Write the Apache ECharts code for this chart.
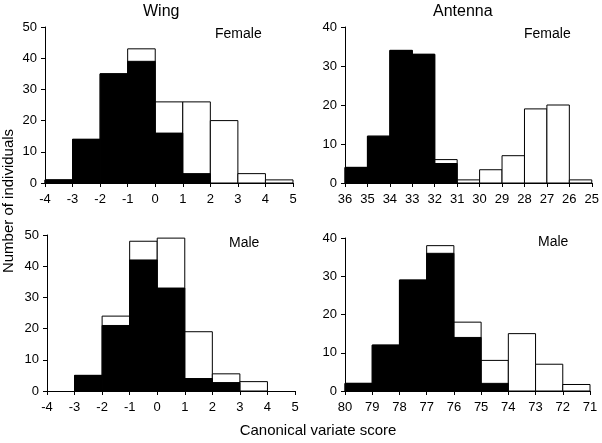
<!DOCTYPE html>
<html>
<head>
<meta charset="utf-8">
<script src="https://cdn.jsdelivr.net/npm/echarts@6/dist/echarts.min.js"></script>
<style>
  html, body { margin: 0; padding: 0; background: #fff; }
  #chart { width: 602px; height: 443px; }
</style>
</head>
<body>
<div id="chart"></div>
<script>
// bin lower edges (each bin is 1 unit wide)
const wingBins = [-4, -3, -2, -1, 0, 1, 2, 3, 4];
const antFemaleBins = [36, 35, 34, 33, 32, 31, 30, 29, 28, 27, 26];
const antMaleBins = [80, 79, 78, 77, 76, 75, 74, 73, 72];

// total (white outline) and black part per bin
const wingFemaleTotal = [1, 14, 35, 43, 26, 26, 20, 3, 1];
const wingFemaleBlack = [1, 14, 35, 39, 16, 3, 0, 0, 0];
const antFemaleTotal = [4, 12, 34, 33, 6, 0.8, 3.4, 7, 19, 20, 0.8];
const antFemaleBlack = [4, 12, 34, 33, 5, 0, 0, 0, 0, 0, 0];
const wingMaleTotal = [0, 5, 24, 48, 49, 19, 5.5, 3, 0];
const wingMaleBlack = [0, 5, 21, 42, 33, 4, 2.7, 0, 0];
const antMaleTotal = [2, 12, 29, 38, 18, 8, 15, 7, 1.7];
const antMaleBlack = [2, 12, 29, 36, 14, 2, 0, 0, 0];

const font = 'Liberation Sans, Arial, sans-serif';

// direction: +1 when the bin runs toward larger numbers, -1 for descending axes
function binData(bins, values, dir) {
    return bins.map((b, i) => [b, b + dir, values[i]]);
}

function renderBar(fill) {
    return function (params, api) {
        const v = api.value(2);
        if (!v) return null;
        const p0 = api.coord([api.value(0), v]);
        const p1 = api.coord([api.value(1), 0]);
        return {
            type: 'rect',
            shape: {
                x: Math.min(p0[0], p1[0]),
                y: p0[1],
                width: Math.abs(p1[0] - p0[0]),
                height: p1[1] - p0[1]
            },
            style: { fill: fill, stroke: '#000', lineWidth: 1 }
        };
    };
}

const grids = [
    { left: 45, top: 27, width: 248, height: 156 },
    { left: 345, top: 27, width: 248, height: 156 },
    { left: 47, top: 235, width: 248, height: 156 },
    { left: 345, top: 238, width: 245, height: 153 }
];

const xDefs = [
    { min: -4, max: 5, inverse: false },
    { min: 25, max: 36, inverse: true },
    { min: -4, max: 5, inverse: false },
    { min: 71, max: 80, inverse: true }
];
const yMax = [50, 40, 50, 40];

const axisLine = { onZero: false, lineStyle: { color: '#000', width: 1 } };
const axisTick = { length: 4, lineStyle: { color: '#000' } };
const labelBase = { color: '#000', fontFamily: font, fontSize: 13 };

const panels = [
    [wingBins, wingFemaleTotal, wingFemaleBlack, 1],
    [antFemaleBins, antFemaleTotal, antFemaleBlack, -1],
    [wingBins, wingMaleTotal, wingMaleBlack, 1],
    [antMaleBins, antMaleTotal, antMaleBlack, -1]
];

const series = [];
panels.forEach((p, i) => {
    series.push({
        type: 'custom', xAxisIndex: i, yAxisIndex: i,
        renderItem: renderBar('#fff'),
        encode: { x: [0, 1], y: 2 },
        data: binData(p[0], p[1], p[3])
    });
    series.push({
        type: 'custom', xAxisIndex: i, yAxisIndex: i,
        renderItem: renderBar('#000'),
        encode: { x: [0, 1], y: 2 },
        data: binData(p[0], p[2], p[3])
    });
});

const chart = echarts.init(document.getElementById('chart'));
chart.setOption({
    animation: false,
    backgroundColor: '#fff',
    grid: grids,
    xAxis: xDefs.map((d, i) => ({
        type: 'value', gridIndex: i, min: d.min, max: d.max, interval: 1,
        inverse: d.inverse,
        axisLine: axisLine, axisTick: axisTick,
        axisLabel: Object.assign({ margin: 10 }, labelBase),
        splitLine: { show: false }
    })),
    yAxis: yMax.map((m, i) => ({
        type: 'value', gridIndex: i, min: 0, max: m, interval: 10,
        axisLine: Object.assign({ show: true }, axisLine),
        axisTick: Object.assign({ show: true }, axisTick),
        axisLabel: Object.assign({ margin: 8 }, labelBase),
        splitLine: { show: false }
    })),
    series: series,
    graphic: [
        { type: 'text', left: 143, top: 4, style: { text: 'Wing', font: '16px ' + font, fill: '#000' } },
        { type: 'text', left: 433, top: 4, style: { text: 'Antenna', font: '16px ' + font, fill: '#000' } },
        { type: 'text', left: 215, top: 27, style: { text: 'Female', font: '14px ' + font, fill: '#000' } },
        { type: 'text', left: 524, top: 27, style: { text: 'Female', font: '14px ' + font, fill: '#000' } },
        { type: 'text', left: 229, top: 236, style: { text: 'Male', font: '14px ' + font, fill: '#000' } },
        { type: 'text', left: 538, top: 235, style: { text: 'Male', font: '14px ' + font, fill: '#000' } },
        { type: 'text', x: 9, y: 201, rotation: Math.PI / 2,
          style: { text: 'Number of individuals', font: '15px ' + font, fill: '#000', align: 'center', verticalAlign: 'middle' } },
        { type: 'text', x: 318, y: 431,
          style: { text: 'Canonical variate score', font: '15px ' + font, fill: '#000', align: 'center', verticalAlign: 'middle' } }
    ]
});
</script>
</body>
</html>
